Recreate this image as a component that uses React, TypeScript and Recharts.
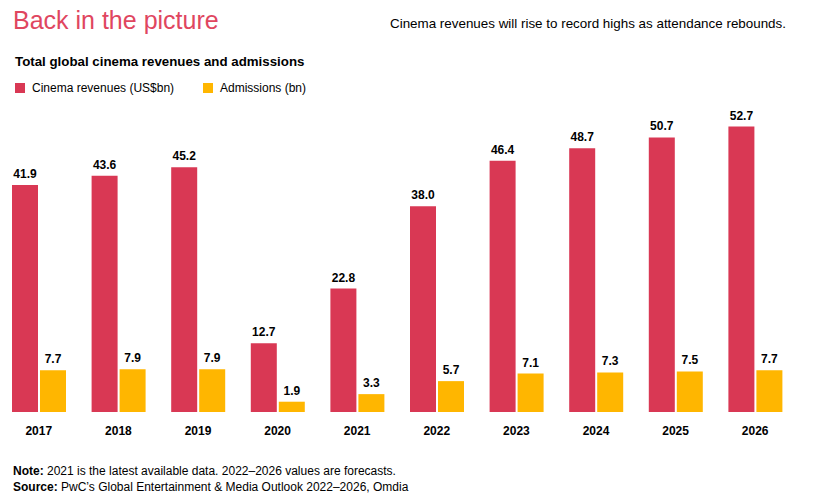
import { Bar, BarChart, LabelList, XAxis, YAxis } from 'recharts';

const years = ['2017', '2018', '2019', '2020', '2021', '2022', '2023', '2024', '2025', '2026'];
const revenues = [41.9, 43.6, 45.2, 12.7, 22.8, 38.0, 46.4, 48.7, 50.7, 52.7];
const admissions = [7.7, 7.9, 7.9, 1.9, 3.3, 5.7, 7.1, 7.3, 7.5, 7.7];

const seriesNames = ['Cinema revenues (US$bn)', 'Admissions (bn)'];
const RED = '#d93854';
const YELLOW = '#ffb600';

const data = years.map((year, i) => ({
  year,
  revenue: revenues[i],
  admissions: admissions[i],
}));

const font = '"Liberation Sans", Arial, Helvetica, sans-serif';

const App = () => {
  return (
    <div
      style={{
        position: 'absolute',
        left: 0,
        top: 0,
        width: 824,
        height: 503,
        background: '#fff',
        fontFamily: font,
        color: '#000',
      }}
    >
      {/* Title */}
      <div style={{ position: 'absolute', left: 13, top: 6, fontSize: 25, color: '#e0465f' }}>
        Back in the picture
      </div>
      <div style={{ position: 'absolute', left: 390, top: 16, fontSize: 13.4 }}>
        Cinema revenues will rise to record highs as attendance rebounds.
      </div>
      <div style={{ position: 'absolute', left: 15, top: 54, fontSize: 13.3, fontWeight: 'bold' }}>
        Total global cinema revenues and admissions
      </div>

      {/* Legend */}
      {[RED, YELLOW].map((c, i) => (
        <div
          key={c}
          style={{
            position: 'absolute',
            left: i === 0 ? 15 : 203,
            top: 81,
            display: 'flex',
            alignItems: 'center',
            fontSize: 12,
          }}
        >
          <span style={{ width: 10, height: 10, background: c, marginRight: 7, display: 'inline-block' }} />
          {seriesNames[i]}
        </div>
      ))}

      {/* Chart */}
      <div style={{ position: 'absolute', left: -1, top: 80 }}>
        <BarChart
          width={796}
          height={362}
          data={data}
          margin={{ top: 7, right: 0, left: 0, bottom: 0 }}
          barGap={2}
          barSize={26}
        >
          <XAxis
            dataKey='year'
            axisLine={false}
            tickLine={false}
            tick={{ fontSize: 12, fontWeight: 'bold', fill: '#000', fontFamily: font }}
            dy={6}
            height={30}
          />
          <YAxis hide domain={[0, 60]} />
          <Bar dataKey='revenue' fill={RED} isAnimationActive={false}>
            <LabelList
              dataKey='revenue'
              position='top'
              offset={7}
              formatter={(v: number) => v.toFixed(1)}
              style={{ fontSize: 12, fontWeight: 'bold', fill: '#000', fontFamily: font }}
            />
          </Bar>
          <Bar dataKey='admissions' fill={YELLOW} isAnimationActive={false}>
            <LabelList
              dataKey='admissions'
              position='top'
              offset={7}
              formatter={(v: number) => v.toFixed(1)}
              style={{ fontSize: 12, fontWeight: 'bold', fill: '#000', fontFamily: font }}
            />
          </Bar>
        </BarChart>
      </div>

      {/* Notes */}
      <div style={{ position: 'absolute', left: 13, top: 463, fontSize: 12, lineHeight: '16px' }}>
        <div>
          <b>Note:</b> 2021 is the latest available data. 2022–2026 values are forecasts.
        </div>
        <div>
          <b>Source:</b> PwC’s Global Entertainment &amp; Media Outlook 2022–2026, Omdia
        </div>
      </div>
    </div>
  );
};

export default App;
